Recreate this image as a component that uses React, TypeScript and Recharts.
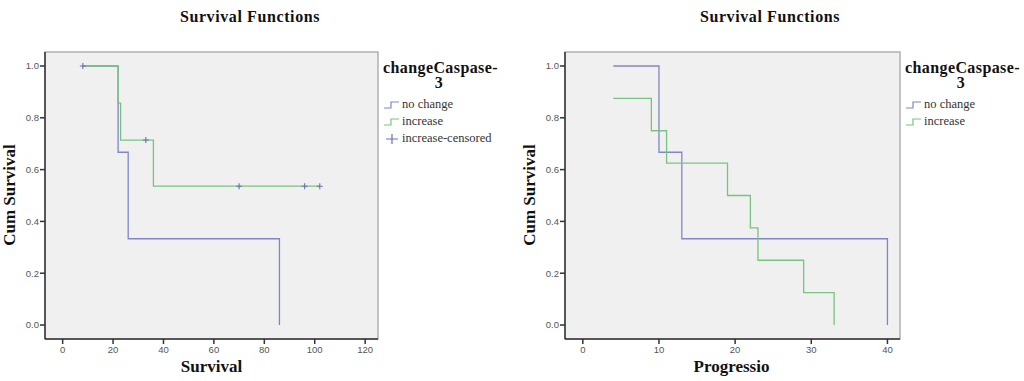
import React from "react";
import {
  ComposedChart,
  Line,
  Scatter,
  XAxis,
  YAxis,
  ReferenceArea,
} from "recharts";

// left panel: overall survival by caspase-3 change
const survNoChange = [
  { t: 8, s: 1 },
  { t: 22, s: 0.667 },
  { t: 26, s: 0.333 },
  { t: 86, s: 0 },
];
const survIncrease = [
  { t: 8, s: 1 },
  { t: 22, s: 0.857 },
  { t: 23, s: 0.714 },
  { t: 36, s: 0.536 },
  { t: 102, s: 0.536 },
];
const survCensored = [
  { t: 8, s: 1 },
  { t: 33, s: 0.714 },
  { t: 70, s: 0.536 },
  { t: 96, s: 0.536 },
  { t: 102, s: 0.536 },
];
const survTicks = [0, 20, 40, 60, 80, 100, 120];

// right panel: progression
const progNoChange = [
  { t: 4, s: 1 },
  { t: 10, s: 0.667 },
  { t: 13, s: 0.333 },
  { t: 40, s: 0 },
];
const progIncrease = [
  { t: 4, s: 0.875 },
  { t: 9, s: 0.75 },
  { t: 11, s: 0.625 },
  { t: 19, s: 0.5 },
  { t: 22, s: 0.375 },
  { t: 23, s: 0.25 },
  { t: 29, s: 0.125 },
  { t: 33, s: 0 },
];
const progTicks = [0, 10, 20, 30, 40];

const yTicks = [0, 0.2, 0.4, 0.6, 0.8, 1.0];

const BLUE = "#8086c8";
const GREEN = "#78c47e";
const CENSOR = "#6a70ae";
const SERIF = "'Liberation Serif', 'DejaVu Serif', serif";
const tickStyle = { fontSize: 9.5, fill: "#555", fontFamily: "'Liberation Sans', Arial, sans-serif" };

const Cross = (props: any) => {
  const { cx, cy } = props;
  if (cx == null || cy == null) return null;
  return (
    <path
      d={`M${cx - 3},${cy}H${cx + 3}M${cx},${cy - 3}V${cy + 3}`}
      stroke={CENSOR}
      strokeWidth={1.1}
    />
  );
};

function StepIcon({ color }: { color: string }) {
  return (
    <svg width={16} height={10} style={{ verticalAlign: "middle" }}>
      <path d="M0,8H7V2H15" fill="none" stroke={color} strokeWidth={1.2} />
    </svg>
  );
}

function KMPanel({
  left,
  xDomain,
  xTicks,
  marginRight,
  lines,
  censored,
  xLabel,
  legendItems,
}: {
  left: number;
  xDomain: [number, number];
  xTicks: number[];
  marginRight: number;
  lines: { data: { t: number; s: number }[]; color: string; key: string }[];
  censored?: { t: number; s: number }[];
  xLabel: string;
  legendItems: { label: string; color: string; cross?: boolean }[];
}) {
  const yDomain: [number, number] = [-0.054, 1.054];
  return (
    <div style={{ position: "absolute", left, top: 0, width: 504, height: 381 }}>
      <div
        style={{
          position: "absolute",
          left: 0,
          width: 500,
          top: 8,
          textAlign: "center",
          fontFamily: SERIF,
          fontWeight: "bold",
          fontSize: 16,
          letterSpacing: 0.6,
          color: "#111",
        }}
      >
        Survival Functions
      </div>
      <ComposedChart
        width={400}
        height={381}
        margin={{ top: 52, right: marginRight, bottom: 12, left: 15 }}
      >
        <ReferenceArea
          x1={xDomain[0]}
          x2={xDomain[1]}
          y1={yDomain[0]}
          y2={yDomain[1]}
          fill="#f0f0f0"
          fillOpacity={1}
          stroke="#b0b0b0"
          strokeWidth={1.5}
          ifOverflow="visible"
        />
        <XAxis
          type="number"
          dataKey="t"
          domain={xDomain}
          ticks={xTicks}
          allowDataOverflow
          height={30}
          tickSize={5}
          tickMargin={2}
          tick={tickStyle}
          stroke="#333"
          strokeWidth={1.5}
        />
        <YAxis
          type="number"
          dataKey="s"
          domain={yDomain}
          ticks={yTicks}
          allowDataOverflow
          width={30}
          tickSize={5}
          tickMargin={1}
          tick={tickStyle}
          tickFormatter={(v: number) => v.toFixed(1)}
          stroke="#333"
          strokeWidth={1.5}
        />
        {lines.map((l) => (
          <Line
            key={l.key}
            data={l.data}
            dataKey="s"
            type="stepAfter"
            stroke={l.color}
            strokeWidth={1.3}
            dot={false}
            activeDot={false}
            isAnimationActive={false}
          />
        ))}
        {censored && (
          <Scatter data={censored} dataKey="s" shape={Cross} isAnimationActive={false} />
        )}
      </ComposedChart>
      <div
        style={{
          position: "absolute",
          left: 10,
          top: 195,
          transform: "translate(-50%, -50%) rotate(-90deg)",
          fontFamily: SERIF,
          fontWeight: "bold",
          fontSize: 17,
          whiteSpace: "nowrap",
          color: "#111",
        }}
      >
        <span style={{ position: "relative", left: 0 }}>Cum Survival</span>
      </div>
      <div
        style={{
          position: "absolute",
          left: 45,
          width: 333,
          top: 357,
          textAlign: "center",
          fontFamily: SERIF,
          fontWeight: "bold",
          fontSize: 17,
          color: "#111",
        }}
      >
        {xLabel}
      </div>
      <div
        style={{
          position: "absolute",
          left: 400 - marginRight + 5,
          top: 60,
          width: 112,
          fontFamily: SERIF,
          fontSize: 16,
          letterSpacing: 0.4,
          fontWeight: "bold",
          color: "#111",
          lineHeight: "15px",
          textAlign: "center",
          whiteSpace: "nowrap",
        }}
      >
        changeCaspase-
        <br />3
      </div>
      <div
        style={{
          position: "absolute",
          left: 400 - marginRight + 6,
          top: 96,
          fontFamily: SERIF,
          fontSize: 12.5,
          color: "#333",
          lineHeight: "17px",
        }}
      >
        {legendItems.map((it) => (
          <div key={it.label} style={{ whiteSpace: "nowrap" }}>
            {it.cross ? (
              <svg width={16} height={10} style={{ verticalAlign: "middle" }}>
                <path d="M2,5H14M8,0V10" stroke={it.color} strokeWidth={1.2} />
              </svg>
            ) : (
              <StepIcon color={it.color} />
            )}
            <span style={{ marginLeft: 2 }}>{it.label}</span>
          </div>
        ))}
      </div>
    </div>
  );
}

export default function App() {
  return (
    <div
      style={{
        position: "absolute",
        left: 0,
        top: 0,
        width: 1024,
        height: 381,
        background: "#fff",
        overflow: "hidden",
      }}
    >
      <KMPanel
        left={0}
        xDomain={[-7, 125.1]}
        xTicks={survTicks}
        marginRight={22}
        lines={[
          { key: "nochange", data: survNoChange, color: BLUE },
          { key: "increase", data: survIncrease, color: GREEN },
        ]}
        censored={survCensored}
        xLabel="Survival"
        legendItems={[
          { label: "no change", color: BLUE },
          { label: "increase", color: GREEN },
          { label: "increase-censored", color: CENSOR, cross: true },
        ]}
      />
      <KMPanel
        left={520}
        xDomain={[-2.34, 41.65]}
        xTicks={progTicks}
        marginRight={20}
        lines={[
          { key: "nochange", data: progNoChange, color: BLUE },
          { key: "increase", data: progIncrease, color: GREEN },
        ]}
        xLabel="Progressio"
        legendItems={[
          { label: "no change", color: BLUE },
          { label: "increase", color: GREEN },
        ]}
      />
    </div>
  );
}
